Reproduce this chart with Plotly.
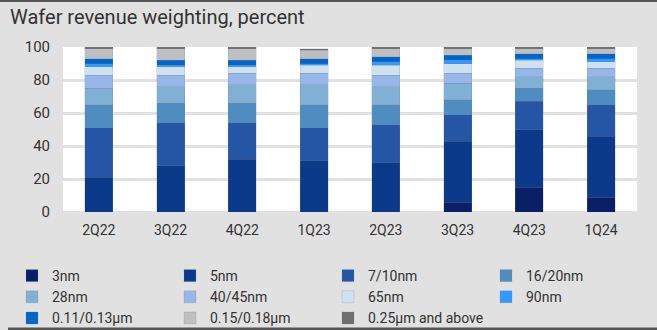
import plotly.graph_objects as go

quarters = ["2Q22", "3Q22", "4Q22", "1Q23", "2Q23", "3Q23", "4Q23", "1Q24"]
nodes = ["3nm", "5nm", "7/10nm", "16/20nm", "28nm", "40/45nm", "65nm", "90nm",
         "0.11/0.13µm", "0.15/0.18µm", "0.25µm and above"]

v_3nm = [0, 0, 0, 0, 0, 6, 15, 9]
v_5nm = [21, 28, 32, 31, 30, 37, 35, 37]
v_7nm = [30, 26, 22, 20, 23, 16, 17, 19]
v_16nm = [14, 12, 12, 14, 12, 9, 8, 9]
v_28nm = [10, 10, 11, 12, 11, 10, 7, 8]
v_40nm = [8, 7, 7, 7, 7, 6, 5, 5]
v_65nm = [5, 5, 4, 5, 6, 6, 5, 4]
v_90nm = [2, 1, 1, 1, 2, 2, 1, 2]
v_011 = [3, 3, 3, 3, 3, 3, 3, 3]
v_015 = [6, 7, 7, 5, 5, 4, 3, 3]
v_025 = [1, 1, 1, 1, 1, 1, 1, 1]

series = [v_3nm, v_5nm, v_7nm, v_16nm, v_28nm, v_40nm, v_65nm, v_90nm, v_011, v_015, v_025]
colors = ["#0A1F66", "#0B3A8A", "#2456A5", "#4F8DC0", "#80B0D3", "#97B7E8",
          "#CFE1EE", "#3399FF", "#0066CC", "#BFBFBF", "#6E6E6E"]

FONT = "Roboto, 'Open Sans', sans-serif"
BG = "#E1E1E1"

fig = go.Figure()
for name, vals, col in zip(nodes, series, colors):
    fig.add_trace(go.Bar(x=quarters, y=vals, name=name, marker_color=col,
                         marker_line=dict(color="rgba(120,130,150,0.35)", width=0.6)))

W, H = 657, 330
L, R, T, B = 63, 20, 47, 118
pw, ph = W - L - R, H - T - B

def px_x(x):
    return (x - L) / pw

def px_y(y):
    return (H - B - y) / ph

fig.update_layout(
    width=W, height=H,
    margin=dict(l=L, r=R, t=T, b=B, autoexpand=False),
    barmode="stack", bargap=0.61,
    paper_bgcolor=BG, plot_bgcolor="white",
    font=dict(family=FONT, size=14, color="#333333"),
    title=dict(text="Wafer revenue weighting, percent", x=10 / W, xanchor="left",
               y=1 - 17 / H, yanchor="middle",
               font=dict(family=FONT, size=20, color="#333333")),
    xaxis=dict(showgrid=False, showline=False, ticks="", tickfont=dict(size=14),
               ticklabelstandoff=8),
    yaxis=dict(range=[0, 100], dtick=20, showgrid=True, gridcolor=BG, gridwidth=3,
               zeroline=True, zerolinecolor=BG, zerolinewidth=3, showline=False,
               tickfont=dict(size=15), ticklabelstandoff=12),
    legend=dict(orientation="h", traceorder="normal",
                x=px_x(12), xanchor="left", y=px_y(260), yanchor="top",
                entrywidth=113, entrywidthmode="pixels",
                font=dict(size=14, color="#333333"), bgcolor="rgba(0,0,0,0)",
                itemclick=False),
    shapes=[
        dict(type="rect", xref="paper", yref="paper", x0=px_x(0), x1=px_x(W),
             y0=px_y(2), y1=px_y(0), fillcolor="#555555", line_width=0, layer="above"),
        dict(type="rect", xref="paper", yref="paper", x0=px_x(8), x1=px_x(W),
             y0=px_y(330), y1=px_y(327.5), fillcolor="#555555", line_width=0, layer="above"),
    ],
)

fig.write_html("out.html")
